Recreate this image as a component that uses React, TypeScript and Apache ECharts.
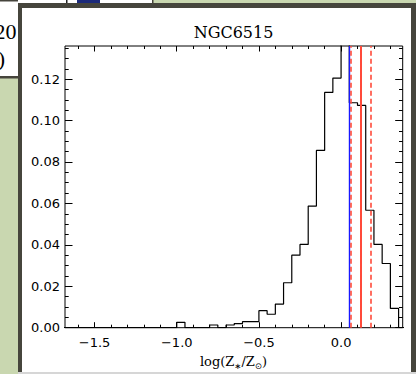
import React, { useEffect, useRef } from 'react';
import * as echarts from 'echarts';

// Histogram bin edges (log Z/Zsun) and normalized frequencies
const binEdges = [-1.05, -1.0, -0.95, -0.9, -0.85, -0.8, -0.75, -0.7, -0.65, -0.6, -0.55, -0.5, -0.45, -0.4, -0.35, -0.3, -0.25, -0.2, -0.15, -0.1, -0.05, 0.0, 0.05, 0.1, 0.15, 0.2, 0.25, 0.3, 0.35, 0.4];
const binValues = [0, 0.0026, 0, 0, 0, 0.0013, 0, 0.0013, 0.002, 0.0029, 0.0029, 0.0082, 0.0065, 0.0114, 0.0217, 0.035, 0.0402, 0.0587, 0.0856, 0.1136, 0.1205, 0.16, 0.1086, 0.1073, 0.0567, 0.0402, 0.031, 0.0093, 0];
const tailStart = -1.7;

// Vertical reference lines
const blueSolid = [0.054];
const redDashed = [0.061, 0.18];
const redSolid = [0.122];

// Axes
const X_MIN = -1.68;
const X_MAX = 0.375;
const Y_MIN = 0;
const Y_MAX = 0.136;
const xMajor = [-1.5, -1.0, -0.5, 0.0];
const xMinor = [-1.6, -1.4, -1.3, -1.2, -1.1, -0.9, -0.8, -0.7, -0.6, -0.4, -0.3, -0.2, -0.1, 0.1, 0.2, 0.3];
const yMajor = [0, 0.02, 0.04, 0.06, 0.08, 0.1, 0.12];
const yMinor = [0.005, 0.01, 0.015, 0.025, 0.03, 0.035, 0.045, 0.05, 0.055, 0.065, 0.07, 0.075, 0.085, 0.09, 0.095, 0.105, 0.11, 0.115, 0.125, 0.13, 0.135];

const title = 'NGC6515';

export default function App() {
  const ref = useRef<HTMLDivElement>(null);
  useEffect(() => {
    if (!ref.current) return;
    const chart = echarts.init(ref.current, null, { renderer: 'svg' });

    const pts: number[][] = [[tailStart, 0], [binEdges[0], 0]];
    for (let i = 0; i < binValues.length; i++) {
      pts.push([binEdges[i], binValues[i]]);
      pts.push([binEdges[i + 1], binValues[i]]);
    }

    const labelFont = { fontFamily: 'DejaVu Sans', fontSize: 13, color: '#000' };
    const tickLine = { color: '#000', width: 1 };
    const noLine = { show: false, onZero: false };
    const xBase = { type: 'value', min: X_MIN, max: X_MAX, axisLine: noLine, splitLine: { show: false } };
    const yBase = { type: 'value', min: Y_MIN, max: Y_MAX, axisLine: noLine, splitLine: { show: false } };
    const fmtX = (v: number) => (v < 0 ? '\u2212' : '') + Math.abs(v).toFixed(1);

    const mk = (vals: number[], color: string, type: any, width: number) =>
      vals.map((v) => ({ xAxis: v, lineStyle: { color, type, width } }));

    chart.setOption({
      animation: false,
      backgroundColor: '#c9d7b0',
      grid: { left: 65, right: 13.3, top: 46, bottom: 46.3, show: true, borderColor: '#000', borderWidth: 1, backgroundColor: 'transparent', z: 5 },
      xAxis: [
        { ...xBase, position: 'bottom', axisTick: { show: true, inside: true, length: 5.5, customValues: xMajor, lineStyle: tickLine }, axisLabel: { show: true, customValues: xMajor, formatter: fmtX, margin: 8, ...labelFont } },
        { ...xBase, position: 'bottom', axisTick: { show: true, inside: true, length: 3, customValues: xMinor, lineStyle: tickLine }, axisLabel: { show: false } },
        { ...xBase, position: 'top', axisTick: { show: true, inside: true, length: 5.5, customValues: xMajor, lineStyle: tickLine }, axisLabel: { show: false } },
        { ...xBase, position: 'top', axisTick: { show: true, inside: true, length: 3, customValues: xMinor, lineStyle: tickLine }, axisLabel: { show: false } },
      ],
      yAxis: [
        { ...yBase, position: 'left', axisTick: { show: true, inside: true, length: 7.5, customValues: yMajor, lineStyle: tickLine }, axisLabel: { show: true, customValues: yMajor, formatter: (v: number) => v.toFixed(2), margin: 5, ...labelFont } },
        { ...yBase, position: 'left', axisTick: { show: true, inside: true, length: 3.7, customValues: yMinor, lineStyle: tickLine }, axisLabel: { show: false } },
        { ...yBase, position: 'right', axisTick: { show: true, inside: true, length: 7.5, customValues: yMajor, lineStyle: tickLine }, axisLabel: { show: false } },
        { ...yBase, position: 'right', axisTick: { show: true, inside: true, length: 3.7, customValues: yMinor, lineStyle: tickLine }, axisLabel: { show: false } },
      ],
      series: [
        {
          type: 'line',
          xAxisIndex: 0,
          yAxisIndex: 0,
          data: pts,
          showSymbol: false,
          symbol: 'none',
          clip: true,
          lineStyle: { color: '#000', width: 1.2 },
          z: 3,
          markLine: {
            silent: true,
            symbol: ['none', 'none'],
            label: { show: false },
            data: [
              ...mk(blueSolid, '#1818ff', 'solid', 1.4),
              ...mk(redDashed, '#ff4a3a', [5, 3], 1.6),
              ...mk(redSolid, '#ff4a3a', 'solid', 2),
            ],
          },
        },
      ],
      graphic: [
        { type: 'rect', z: -10, shape: { x: 0, y: 0, width: 153, height: 4 }, style: { fill: '#ffffff' } },
        { type: 'rect', z: -9, shape: { x: 152, y: 0, width: 1.5, height: 4 }, style: { fill: '#46453c' } },
        { type: 'rect', z: -9, shape: { x: 66, y: 0, width: 1.5, height: 3 }, style: { fill: '#222' } },
        { type: 'rect', z: -9, shape: { x: 77, y: 0, width: 23, height: 3 }, style: { fill: '#1c2a7a' } },
        { type: 'rect', z: -10, shape: { x: 0, y: 0, width: 18, height: 76 }, style: { fill: '#ffffff' } },
        { type: 'rect', z: -9, shape: { x: 0, y: 0, width: 18, height: 1.5 }, style: { fill: '#46453c' } },
        { type: 'rect', z: -9, shape: { x: 0, y: 76, width: 18, height: 2.5 }, style: { fill: '#46453c' } },
        { type: 'text', z: -8, x: 16.5, y: 31, style: { text: '20', fontFamily: 'Liberation Serif', fontSize: 22, fill: '#000', align: 'right', verticalAlign: 'middle' } },
        { type: 'text', z: -8, x: 5, y: 58, style: { text: ')', fontFamily: 'Liberation Serif', fontSize: 22, fill: '#000', align: 'right', verticalAlign: 'middle' } },
        { type: 'rect', z: -7, shape: { x: 18, y: 3, width: 398, height: 369 }, style: { fill: '#46453c' } },
        { type: 'rect', z: -6, shape: { x: 22, y: 8, width: 389, height: 364 }, style: { fill: '#ffffff' } },
        { type: 'rect', z: -6, shape: { x: 18, y: 372, width: 398, height: 2 }, style: { fill: '#d6d6d6' } },
        { type: 'text', z: 10, x: 233.5, y: 32, style: { text: title, fontFamily: 'DejaVu Serif', fontSize: 16, fill: '#000', align: 'center', verticalAlign: 'middle' } },
        {
          type: 'text', z: 10, x: 233.5, y: 361,
          style: {
            text: '{a|log(Z}{s|\u2217}{a|/Z}{s|\u2299}{a|)}',
            align: 'center', verticalAlign: 'middle',
            rich: {
              a: { fontFamily: 'DejaVu Serif', fontSize: 13, lineHeight: 18, fill: '#000' },
              s: { fontFamily: 'DejaVu Sans', fontSize: 8.5, lineHeight: 9, verticalAlign: 'bottom', fill: '#000' },
            },
          },
        },
      ],
    });
    return () => chart.dispose();
  }, []);
  return <div ref={ref} style={{ position: 'fixed', left: 0, top: 0, width: 416, height: 374 }} />;
}
